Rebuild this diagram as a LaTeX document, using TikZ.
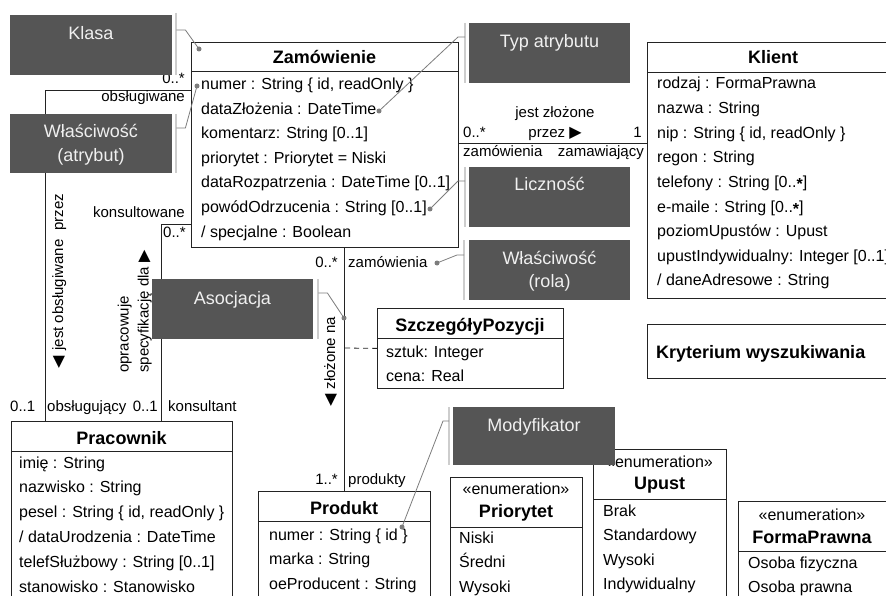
\documentclass[tikz,border=0pt]{standalone}
\usepackage{fontspec}
\setmainfont{Liberation Sans}
\newfontfamily\symbfont{DejaVu Sans}
\usetikzlibrary{calc}
\usetikzlibrary{positioning}

\definecolor{notefill}{RGB}{85,85,85}
\definecolor{notetext}{RGB}{240,240,240}
\definecolor{noteedge}{RGB}{205,205,205}
\definecolor{noteline}{RGB}{125,125,125}
\definecolor{umlline}{RGB}{35,35,35}

\newcommand{\attrfont}{\fontsize{16}{19}\selectfont}
\newcommand{\lblfont}{\fontsize{15}{18}\selectfont}
\newcommand{\umltitlefont}{\fontsize{18}{21}\selectfont\bfseries}
\newcommand{\trirt}{{\symbfont\fontsize{16}{18}\selectfont ▶}}
\newcommand{\trilt}{{\symbfont\fontsize{16}{18}\selectfont ◀}}
\newcommand{\midstar}{\raisebox{-2.5pt}{\bfseries *}}

\tikzset{
  classbox/.style={draw=umlline,line width=0.8pt,fill=white,anchor=north west,inner sep=0pt},
  notebox/.style={fill=notefill,anchor=north west,inner sep=0pt,minimum width=162pt,minimum height=60pt},
  notetitle/.style={text=notetext,font=\fontsize{18}{21}\selectfont,anchor=base,inner sep=0pt},
  notebar/.style={draw=noteedge,line width=2pt},
  noteref/.style={draw=noteline,line width=0.8pt},
  notedot/.style={fill=noteline},
  attr/.style={font=\attrfont,anchor=base west,inner sep=0pt},
  classtitle/.style={font=\umltitlefont,anchor=base,inner sep=0pt},
  stereo/.style={font=\attrfont,anchor=base,inner sep=0pt},
  assoc/.style={draw=umlline,line width=0.8pt},
  lbl/.style={font=\lblfont,inner sep=0pt},
}

\begin{document}
\begin{tikzpicture}[x=1pt,y=-1pt]
  \useasboundingbox (0,0) rectangle (886,596);
  \clip (0,0) rectangle (886,596);

  % klasy
  \node[classbox,minimum width=267pt,minimum height=205pt] (zam) at (191,42) {};
  \draw[assoc] ($(zam.north west)+(0,29)$) -- ($(zam.north east)+(0,29)$);
  \node[classtitle] at (324.5,64) {Zamówienie};
  \foreach \t [count=\i from 0] in {{numer : String \{ id, readOnly \}},
      {dataZłożenia : DateTime}, {komentarz: String [0..1]},
      {priorytet : Priorytet = Niski}, {dataRozpatrzenia : DateTime [0..1]},
      {powódOdrzucenia : String [0..1]}, {/ specjalne : Boolean}}
    \node[attr] (zam-\i) at (201,90+24.5*\i) {\t};

  \node[classbox,minimum width=253pt,minimum height=256pt] (klient) at (647,42) {};
  \draw[assoc] ($(klient.north west)+(0,30)$) -- ($(klient.north east)+(0,30)$);
  \node[classtitle] at (773,64) {Klient};
  \foreach \t [count=\i from 0] in {{rodzaj : FormaPrawna}, {nazwa : String},
      {nip : String \{ id, readOnly \}}, {regon : String},
      {telefony : String [0..\midstar]}, {e-maile : String [0..\midstar]},
      {poziomUpustów : Upust}, {upustIndywidualny: Integer [0..1]},
      {/ daneAdresowe : String}}
    \node[attr] (kl-\i) at (657,89+24.6*\i) {\t};

  \node[classbox,minimum width=221pt,minimum height=200pt] (prac) at (11,421) {};
  \draw[assoc] ($(prac.north west)+(0,30)$) -- ($(prac.north east)+(0,30)$);
  \node[classtitle] at (121.5,444) {Pracownik};
  \foreach \t [count=\i from 0] in {{imię : String}, {nazwisko : String},
      {pesel : String \{ id, readOnly \}}, {/ dataUrodzenia : DateTime},
      {telefSłużbowy : String [0..1]}, {stanowisko : Stanowisko}}
    \node[attr] (pr-\i) at (19,468+24.9*\i) {\t};

  \node[classbox,minimum width=172pt,minimum height=130pt] (prod) at (258,491) {};
  \draw[assoc] ($(prod.north west)+(0,30)$) -- ($(prod.north east)+(0,30)$);
  \node[classtitle] at (344,514) {Produkt};
  \foreach \t [count=\i from 0] in {{numer : String \{ id \}}, {marka : String},
      {oeProducent : String}}
    \node[attr] (pd-\i) at (269,540+24.5*\i) {\t};

  \node[classbox,minimum width=186pt,minimum height=80pt] (szcz) at (377,308) {};
  \draw[assoc] ($(szcz.north west)+(0,30)$) -- ($(szcz.north east)+(0,30)$);
  \node[classtitle] at (470,331) {SzczegółyPozycji};
  \node[attr] at (386,357) {sztuk: Integer};
  \node[attr] at (386,381) {cena: Real};

  \node[classbox,minimum width=260pt,minimum height=54pt] (kryt) at (647,324) {};
  \node[font=\umltitlefont,anchor=base west,inner sep=0pt] at (656,358) {Kryterium wyszukiwania};

  % wyliczenia
  \node[classbox,minimum width=132pt,minimum height=140pt] (prio) at (450,477) {};
  \draw[assoc] ($(prio.north west)+(0,50)$) -- ($(prio.north east)+(0,50)$);
  \node[stereo] at (516,494) {«enumeration»};
  \node[classtitle] at (516,517) {Priorytet};
  \foreach \t [count=\i from 0] in {Niski, Średni, Wysoki}
    \node[attr] at (459,543+24.5*\i) {\t};

  \node[classbox,minimum width=133pt,minimum height=160pt] (upust) at (593,449) {};
  \draw[assoc] ($(upust.north west)+(0,50)$) -- ($(upust.north east)+(0,50)$);
  \node[stereo] at (659.5,467) {«enumeration»};
  \node[classtitle] at (659.5,489) {Upust};
  \foreach \t [count=\i from 0] in {Brak, Standardowy, Wysoki, Indywidualny}
    \node[attr] at (603,516+24.5*\i) {\t};

  \node[classbox,minimum width=160pt,minimum height=120pt] (forma) at (738,501) {};
  \draw[assoc] ($(forma.north west)+(0,50)$) -- ($(forma.north east)+(0,50)$);
  \node[stereo] at (812,520) {«enumeration»};
  \node[classtitle] at (812,543) {FormaPrawna};
  \node[attr] at (748,568) {Osoba fizyczna};
  \node[attr] at (748,592) {Osoba prawna};

  % asocjacje
  \draw[assoc] ($(zam.north west)+(0,48)$) -| ($(prac.north west)+(34,0)$);
  \draw[assoc] ($(zam.north west)+(0,182)$) -| ($(prac.north west)+(150,0)$);
  \draw[assoc] ($(zam.south west)+(153,0)$) -- ($(prod.north west)+(86,0)$);
  \draw[assoc] ($(zam.north east)+(0,101)$) -- ($(klient.north west)+(0,101)$);
  \coordinate (klasaAsoc) at (344,348);
  \draw[assoc,dashed,dash pattern=on 5pt off 4pt] (szcz.west) -- (klasaAsoc);

  \node[lbl,anchor=base east] at (185,84) {0..*};
  \node[lbl,anchor=base east] at (185,102) {obsługiwane};
  \node[lbl,anchor=base east] at (185,218) {konsultowane};
  \node[lbl,anchor=base west] at (163,237) {0..*};
  \node[lbl,anchor=base west] at (10,411) {0..1};
  \node[lbl,anchor=base west] at (47,411) {obsługujący};
  \node[lbl,anchor=base east] at (158,411) {0..1};
  \node[lbl,anchor=base west] at (168,411) {konsultant};
  \node[lbl,anchor=base east] at (338,267) {0..*};
  \node[lbl,anchor=base west] at (348,267) {zamówienia};
  \node[lbl,anchor=base east] at (338,484) {1..*};
  \node[lbl,anchor=base west] at (348,484) {produkty};
  \node[lbl,anchor=base] at (555,118) {jest złożone};
  \node[lbl,anchor=base] at (555,138) {przez \trirt};
  \node[lbl,anchor=base west] at (463,138) {0..*};
  \node[lbl,anchor=base east] at (642,138) {1};
  \node[lbl,anchor=base west] at (463,157) {zamówienia};
  \node[lbl,anchor=base east] at (644,157) {zamawiający};

  \node[lbl,rotate=90,anchor=base west] at (63,369) {\trilt\hspace{6pt}jest obsługiwane\hspace{9pt}przez};
  \node[lbl,rotate=90,anchor=base west] at (128.5,373) {opracowuje};
  \node[lbl,rotate=90,anchor=base west] at (148.5,373) {specyfikację dla \trirt};
  \node[lbl,rotate=90,anchor=base west] at (335,407) {\trilt\hspace{5pt}złożone na};

  % notatki
  \node[notebox] (klasa) at (10,15) {};
  \node[notetitle] at (91,40) {Klasa};
  \node[notebox,minimum height=59pt] (wlasA) at (10,114) {};
  \node[notetitle] at (91,138) {Właściwość};
  \node[notetitle] at (91,162) {(atrybut)};
  \node[notebox,minimum width=161pt] (typ) at (469,23) {};
  \node[notetitle] at (549.5,48) {Typ atrybutu};
  \node[notebox,minimum width=161pt] (licz) at (469,167) {};
  \node[notetitle] at (549.5,191) {Liczność};
  \node[notebox,minimum width=161pt] (rola) at (469,240) {};
  \node[notetitle] at (549.5,264) {Właściwość};
  \node[notetitle] at (549.5,287) {(rola)};
  \node[notebox,minimum width=161pt] (asoc) at (152,279) {};
  \node[notetitle] at (232.5,304) {Asocjacja};
  \node[notebox,minimum height=58pt] (mod) at (453,407) {};
  \node[notetitle] at (534,431) {Modyfikator};

  \draw[notebar] ($(klasa.north east)+(4,-2)$) -- ($(klasa.south east)+(4,0)$);
  \draw[notebar] ($(wlasA.north east)+(4,0)$) -- ($(wlasA.south east)+(4,0)$);
  \draw[notebar] ($(typ.north west)+(-4,0)$) -- ($(typ.south west)+(-4,0)$);
  \draw[notebar] ($(licz.north west)+(-4,0)$) -- ($(licz.south west)+(-4,0)$);
  \draw[notebar] ($(rola.north west)+(-5,0)$) -- ($(rola.south west)+(-5,0)$);
  \draw[notebar] ($(asoc.north east)+(5,0)$) -- ($(asoc.south east)+(5,0)$);
  \draw[notebar] ($(mod.north west)+(-4,0)$) -- ($(mod.south west)+(-4,0)$);

  \coordinate (dotKlasa) at (199,49);
  \coordinate (dotNumer) at (197,86);
  \coordinate (dotData) at (379,111);
  \coordinate (dotPowod) at (430,209);
  \coordinate (dotRola) at (437,263);
  \coordinate (dotAsoc) at (344,318);
  \coordinate (dotId) at (402,527);

  \draw[noteref] ($(klasa.north east)+(4,15)$) -- ++(9,0) -- (dotKlasa);
  \draw[noteref] ($(wlasA.north east)+(4,14)$) -- ++(9,0) -- (dotNumer);
  \draw[noteref] ($(typ.north west)+(-4,14)$) -- ++(-7,0) -- (dotData);
  \draw[noteref] ($(licz.north west)+(-4,14)$) -- ++(-7,0) -- (dotPowod);
  \draw[noteref] ($(rola.north west)+(-5,15)$) -- ++(-7,0) -- (dotRola);
  \draw[noteref] ($(asoc.north east)+(5,14)$) -- ++(9,0) -- (dotAsoc);
  \draw[noteref] ($(mod.north west)+(-4,14)$) -- ++(-6,0) -- (dotId);
  \foreach \d in {dotKlasa,dotNumer,dotData,dotPowod,dotRola,dotAsoc,dotId}
    \fill[notedot] (\d) circle (2.5pt);
\end{tikzpicture}
\end{document}
